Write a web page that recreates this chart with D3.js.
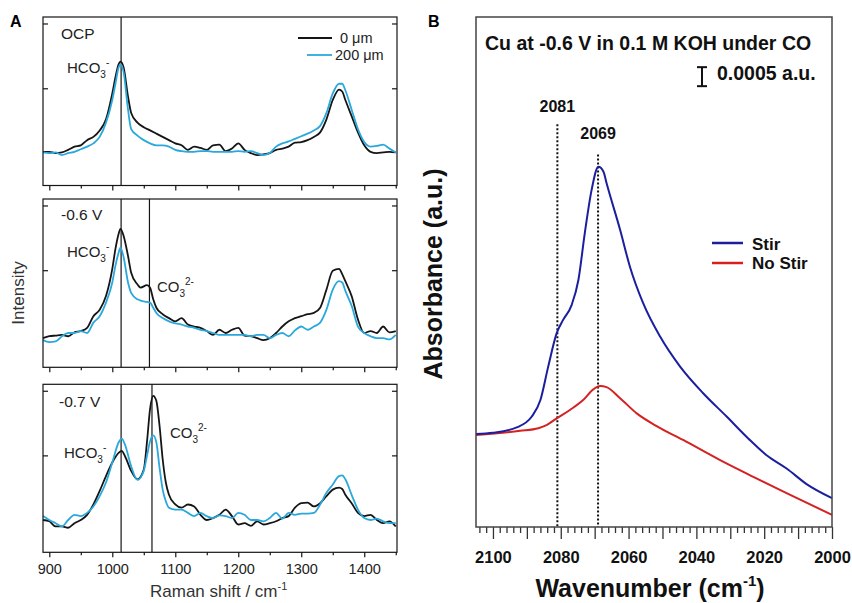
<!DOCTYPE html>
<html lang="en">
<head>
<meta charset="UTF-8">
<title>Raman / IR spectra</title>
<script src="https://d3js.org/d3.v7.min.js"></script>
<style>
  body { margin: 0; background: #fff; }
  svg { display: block; font-family: "Liberation Sans", Arial, sans-serif; }
  .domain { display: none; }
</style>
</head>
<body>
<div class="chart"></div>
<script>
// ---- panel A: Raman spectra (intensity, arbitrary units) ----
const shiftTop = [890,900,910,920,930,940,950,960,970,980,990,1000,1005,1010,1013,1018,1025,1030,1040,1050,1060,1070,1080,1090,1100,1110,1120,1130,1140,1150,1160,1170,1180,1190,1200,1210,1220,1230,1240,1250,1260,1270,1280,1290,1300,1310,1320,1330,1340,1350,1360,1365,1370,1380,1390,1400,1410,1420,1430,1440,1450];
const ocp0 = [0.02,0.02,0.0,0.01,0.05,0.1,0.12,0.2,0.25,0.35,0.52,0.92,1.17,1.37,1.41,1.32,0.87,0.62,0.47,0.4,0.35,0.3,0.25,0.2,0.15,0.12,0.05,0.1,0.08,0.05,0.12,0.13,0.03,0.07,0.15,0.05,0.0,-0.03,-0.02,0.0,0.05,0.07,0.1,0.16,0.17,0.2,0.25,0.32,0.52,0.82,0.98,0.95,0.82,0.57,0.32,0.12,0.02,0.0,0.01,0.02,0.01];
const ocp200 = [0.01,0.0,0.01,-0.03,0.0,0.02,0.06,0.1,0.15,0.25,0.47,0.82,1.07,1.32,1.37,1.25,0.67,0.37,0.27,0.2,0.15,0.12,0.12,0.1,0.05,0.03,0.02,0.02,0.03,0.03,0.02,0.02,0.02,0.02,0.03,0.02,0.03,0.0,-0.03,0.0,0.1,0.15,0.18,0.22,0.26,0.3,0.35,0.42,0.62,0.92,1.07,1.07,0.97,0.67,0.37,0.17,0.1,0.11,0.13,0.07,0.01];

const shiftMid = [890,900,910,920,930,940,950,960,970,980,990,1000,1005,1010,1013,1018,1025,1030,1040,1045,1055,1060,1065,1070,1080,1090,1100,1110,1120,1130,1140,1150,1160,1170,1180,1190,1200,1210,1220,1230,1240,1250,1260,1270,1280,1290,1300,1310,1320,1330,1340,1350,1360,1365,1370,1380,1390,1400,1410,1420,1430,1440,1450];
const v06_0 = [-0.05,-0.02,-0.01,0.0,-0.02,0.04,0.06,0.11,0.29,0.39,0.6,1.02,1.33,1.56,1.64,1.53,1.22,0.96,0.78,0.73,0.77,0.73,0.55,0.42,0.32,0.26,0.21,0.26,0.16,0.13,0.11,0.06,0.0,0.08,0.03,0.08,0.11,-0.01,-0.02,-0.05,-0.08,-0.05,0.03,0.13,0.21,0.26,0.29,0.32,0.34,0.42,0.7,0.99,1.02,0.94,0.83,0.6,0.24,0.03,0.06,0.03,0.13,0.04,0.06];
const v06_200 = [-0.08,-0.11,-0.1,-0.02,0.03,0.03,0.06,0.03,0.19,0.29,0.5,0.81,1.07,1.27,1.35,1.2,0.81,0.65,0.55,0.53,0.51,0.5,0.42,0.34,0.26,0.21,0.18,0.16,0.13,0.11,0.08,0.06,0.03,0.0,0.0,0.0,0.0,0.0,-0.02,0.0,0.0,-0.05,0.0,0.03,-0.02,0.07,0.13,0.08,0.13,0.19,0.39,0.7,0.83,0.81,0.68,0.45,0.13,0.03,-0.02,-0.05,-0.05,-0.07,0.0];

const shiftBot = [890,900,910,920,930,940,950,960,970,980,990,1000,1010,1015,1020,1030,1040,1050,1055,1060,1065,1070,1075,1080,1085,1090,1100,1110,1120,1130,1140,1150,1160,1170,1180,1190,1200,1210,1220,1230,1240,1250,1260,1270,1280,1290,1300,1310,1320,1330,1340,1350,1360,1365,1370,1380,1390,1400,1410,1420,1430,1440,1450];
const v07_0 = [0.0,-0.02,-0.1,-0.1,-0.12,-0.05,0.0,0.08,0.24,0.45,0.68,0.89,1.04,1.07,0.99,0.76,0.63,0.78,1.2,1.72,1.92,1.84,1.46,0.94,0.58,0.39,0.24,0.19,0.24,0.21,0.08,0.0,0.03,0.08,0.16,0.06,-0.07,-0.05,-0.09,-0.02,-0.07,-0.05,-0.02,0.03,0.06,0.19,0.26,0.27,0.21,0.26,0.37,0.47,0.5,0.48,0.39,0.26,0.11,0.06,0.08,0.0,-0.05,-0.02,-0.1];
const v07_200 = [0.06,0.0,-0.05,-0.1,0.0,0.08,0.06,0.11,0.21,0.37,0.58,0.89,1.2,1.26,1.17,0.83,0.62,0.76,0.99,1.22,1.31,1.2,0.81,0.47,0.29,0.19,0.16,0.16,0.11,0.06,0.11,0.06,0.03,0.07,0.06,0.03,0.11,0.08,0.0,0.0,-0.02,0.03,0.11,0.02,0.11,0.08,0.1,0.1,0.11,0.24,0.42,0.55,0.68,0.69,0.63,0.39,0.16,0.03,0.0,0.02,-0.02,-0.05,-0.05];

const ramanTicks = [900,1000,1100,1200,1300,1400];
const panelNames = ["OCP", "-0.6 V", "-0.7 V"];
const bandLines = [[1014], [1014, 1059], [1014, 1063]];
const legendA = ["0 \u03bcm", "200 \u03bcm"];

// ---- panel B: IR absorbance (a.u.) vs wavenumber ----
const waveStir = [2105,2100,2093,2088.6,2086,2083.7,2081.2,2079.3,2076.8,2074.8,2072.9,2070.9,2068.9,2067.4,2066.5,2062.5,2059.6,2055.7,2050.7,2044.8,2038,2031,2024.7,2019.3,2013.4,2007.5,2000];
const absStir = [0.00245,0.00248,0.00262,0.00290,0.00334,0.00422,0.00510,0.00545,0.00584,0.00650,0.00774,0.00887,0.00948,0.00935,0.00905,0.00782,0.00685,0.00589,0.00501,0.00422,0.00352,0.00290,0.00233,0.00189,0.00154,0.00113,0.00076];
const waveNoStir = [2105,2092,2086.6,2084.2,2081.2,2077.3,2073.4,2070.4,2068.4,2066.5,2062.5,2057.6,2052,2043.9,2033,2023.2,2013.4,2000];
const absNoStir = [0.00242,0.00253,0.00260,0.00268,0.00286,0.00308,0.00334,0.00362,0.00371,0.00368,0.00339,0.00299,0.00267,0.00229,0.00176,0.00132,0.00089,0.00032];
const peakMarks = [2081, 2069];
const peakLabelAbs = [0.01092, 0.0102];
const peakLineTop = [0.0106, 0.0098];
const wavenumberTicks = [2100,2080,2060,2040,2020,2000];
const legendB = ["Stir", "No Stir"];
const scaleBarBase = 0.0116, scaleBarSize = 0.0005;

const W = 852, H = 603;
const svg = d3.select(".chart").append("svg").attr("width", W).attr("height", H);

const black = "#151515", cyan = "#2aa8dc";
const navy = "#1b1f9e", red = "#d42222";

// ================= Panel A =================
const xA = d3.scaleLinear().domain([890, 1452]).range([43, 397]);
const boxes = [[17, 185.5], [199, 367.3], [384.3, 552.3]];
const panels = [
  {x: shiftTop, a: ocp0, b: ocp200},
  {x: shiftMid, a: v06_0, b: v06_200},
  {x: shiftBot, a: v07_0, b: v07_200}
];

function chemLabel(g, x, y, sub, sup) {
  const t = g.append("text").attr("x", x).attr("y", y).attr("font-size", 15).attr("fill", "#222");
  t.append("tspan").text(sub === "3" && sup === "-" ? "HCO" : "CO");
  t.append("tspan").attr("font-size", 10).attr("dy", 5).text("3");
  t.append("tspan").attr("font-size", 10).attr("dy", -12).text(sup);
}

panels.forEach((p, i) => {
  const [y0, y1] = boxes[i];
  const yA = d3.scaleLinear().domain([-0.5, 2.1]).range([y1, y0]);
  const g = svg.append("g");

  // x ticks, outside, 100s long and 50s short
  const ax = g.append("g").attr("transform", `translate(0,${y1})`)
    .call(d3.axisBottom(xA).tickValues(d3.range(900, 1451, 50)).tickSize(5).tickFormat(""));
  ax.selectAll(".tick line").attr("stroke", black).attr("stroke-width", 1.2)
    .attr("y2", d => d % 100 === 0 ? 5 : 3);
  if (i === 2) {
    ax.selectAll(".tick text").data(d3.range(900, 1451, 50))
      .text(d => ramanTicks.includes(d) ? d : "")
      .attr("font-size", 14.5).attr("fill", "#222").attr("y", 22).attr("dy", 0)
      .attr("font-family", "Liberation Sans, Arial, sans-serif");
  }

  // y ticks inside on both sides
  g.append("g").attr("transform", `translate(${xA.range()[0]},0)`)
    .call(d3.axisRight(yA).tickValues([1, 2]).tickSize(5).tickFormat(""))
    .selectAll(".tick line").attr("stroke", black).attr("stroke-width", 1.2);
  g.append("g").attr("transform", `translate(${xA.range()[1]},0)`)
    .call(d3.axisLeft(yA).tickValues([1, 2]).tickSize(5).tickFormat(""))
    .selectAll(".tick line").attr("stroke", black).attr("stroke-width", 1.2);

  // band position lines
  g.selectAll("line.band").data(bandLines[i]).join("line").attr("class", "band")
    .attr("x1", d => xA(d)).attr("x2", d => xA(d)).attr("y1", y0).attr("y2", y1)
    .attr("stroke", black).attr("stroke-width", 1.2);

  const line = d3.line().x(d => xA(d[0])).y(d => yA(d[1])).curve(d3.curveMonotoneX);
  g.append("path").datum(p.x.map((v, k) => [v, p.a[k]]))
    .attr("d", line).attr("fill", "none").attr("stroke", black).attr("stroke-width", 1.8);
  g.append("path").datum(p.x.map((v, k) => [v, p.b[k]]))
    .attr("d", line).attr("fill", "none").attr("stroke", cyan).attr("stroke-width", 1.8);

  g.append("rect").attr("x", xA.range()[0]).attr("y", y0)
    .attr("width", xA.range()[1] - xA.range()[0]).attr("height", y1 - y0)
    .attr("fill", "none").attr("stroke", black).attr("stroke-width", 1.2);

  g.append("text").attr("x", i === 2 ? 59 : 61).attr("y", y0 + (i === 0 ? 22 : i === 1 ? 21 : 23))
    .attr("font-size", 15.5).attr("fill", "#222").text(panelNames[i]);
});

// ion labels
chemLabel(svg, 67, 73, "3", "-");
chemLabel(svg, 67, 257, "3", "-");
chemLabel(svg, 157, 292, "3", "2-");
chemLabel(svg, 64, 458, "3", "-");
chemLabel(svg, 170, 438, "3", "2-");

// legend A
const legA = svg.append("g");
[[298, 38, black, 340, 43], [307, 55, cyan, 335, 60]].forEach((r, k) => {
  legA.append("line").attr("x1", r[0]).attr("x2", 332).attr("y1", r[1]).attr("y2", r[1])
    .attr("stroke", r[2]).attr("stroke-width", 1.8);
  legA.append("text").attr("x", r[3]).attr("y", r[4]).attr("font-size", 14.5).attr("fill", "#222").text(legendA[k]);
});

svg.append("text").attr("transform", "translate(24,293) rotate(-90)").attr("text-anchor", "middle")
  .attr("font-size", 17).attr("fill", "#333").text("Intensity");
const xt = svg.append("text").attr("x", 150).attr("y", 597).attr("font-size", 17).attr("fill", "#333");
xt.append("tspan").text("Raman shift / cm");
xt.append("tspan").attr("font-size", 11).attr("dy", -7).text("-1");

svg.append("text").attr("x", 10).attr("y", 27).attr("font-size", 16).attr("font-weight", "bold").text("A");
svg.append("text").attr("x", 428).attr("y", 27).attr("font-size", 16).attr("font-weight", "bold").text("B");

// ================= Panel B =================
const xB = d3.scaleLinear().domain([2105, 2000]).range([476, 832]);
const yB = d3.scaleLinear().domain([0, 0.01342]).range([527, 17]);
const gB = svg.append("g").attr("font-weight", "bold");

const axB = gB.append("g").attr("transform", "translate(0,527)")
  .call(d3.axisBottom(xB).tickValues(d3.range(2000, 2105, 2)).tickSize(6).tickFormat(""));
axB.selectAll(".tick line").attr("stroke", "#333").attr("stroke-width", 1.3)
  .attr("y2", d => d % 10 === 0 ? 12 : 6);
axB.selectAll(".tick text").data(d3.range(2000, 2105, 2))
  .text(d => wavenumberTicks.includes(d) ? d : "")
  .attr("font-size", 16.5).attr("fill", "#111").attr("y", 36).attr("dy", 0)
  .attr("font-family", "Liberation Sans, Arial, sans-serif").attr("font-weight", "bold");

// dotted peak lines
peakMarks.forEach((w, k) => {
  gB.append("line").attr("x1", xB(w)).attr("x2", xB(w)).attr("y1", yB(peakLineTop[k])).attr("y2", 527)
    .attr("stroke", "#111").attr("stroke-width", 2).attr("stroke-dasharray", "2,2");
  gB.append("text").attr("x", xB(w)).attr("y", yB(peakLabelAbs[k])).attr("text-anchor", "middle")
    .attr("font-size", 16).attr("fill", "#111").text(w);
});

const lineB = d3.line().x(d => xB(d[0])).y(d => yB(d[1])).curve(d3.curveMonotoneX);
gB.append("path").datum(waveNoStir.map((w, k) => [w, absNoStir[k]]))
  .attr("d", lineB).attr("fill", "none").attr("stroke", red).attr("stroke-width", 2);
gB.append("path").datum(waveStir.map((w, k) => [w, absStir[k]]))
  .attr("d", lineB).attr("fill", "none").attr("stroke", navy).attr("stroke-width", 2);

gB.append("rect").attr("x", 476).attr("y", 17).attr("width", 356).attr("height", 510)
  .attr("fill", "none").attr("stroke", "#444").attr("stroke-width", 1.5);

gB.append("text").attr("x", 485).attr("y", 50).attr("font-size", 19.5).attr("fill", "#111")
  .text("Cu at -0.6 V in 0.1 M KOH under CO");

// scale bar
const sb = gB.append("g").attr("stroke", "#111").attr("stroke-width", 2);
sb.append("line").attr("x1", 702).attr("x2", 702).attr("y1", yB(scaleBarBase)).attr("y2", yB(scaleBarBase + scaleBarSize));
sb.append("line").attr("x1", 697).attr("x2", 707).attr("y1", yB(scaleBarBase)).attr("y2", yB(scaleBarBase));
sb.append("line").attr("x1", 697).attr("x2", 707).attr("y1", yB(scaleBarBase + scaleBarSize)).attr("y2", yB(scaleBarBase + scaleBarSize));
gB.append("text").attr("x", 717).attr("y", 80).attr("font-size", 19.5).attr("fill", "#111").text("0.0005 a.u.");

// legend B
[[navy, 243, 250], [red, 263, 269]].forEach((r, k) => {
  gB.append("line").attr("x1", 712).attr("x2", 743).attr("y1", r[1]).attr("y2", r[1])
    .attr("stroke", r[0]).attr("stroke-width", 2.5);
  gB.append("text").attr("x", 752).attr("y", r[2]).attr("font-size", 17).attr("fill", "#111").text(legendB[k]);
});

gB.append("text").attr("transform", "translate(442,274) rotate(-90)").attr("text-anchor", "middle")
  .attr("font-size", 25).attr("fill", "#111").text("Absorbance (a.u.)");
const xtB = gB.append("text").attr("x", 650).attr("y", 597).attr("text-anchor", "middle")
  .attr("font-size", 25).attr("fill", "#111");
xtB.append("tspan").text("Wavenumber (cm");
xtB.append("tspan").attr("font-size", 15).attr("dy", -11).text("-1");
xtB.append("tspan").attr("dy", 11).text(")");
</script>
</body>
</html>
